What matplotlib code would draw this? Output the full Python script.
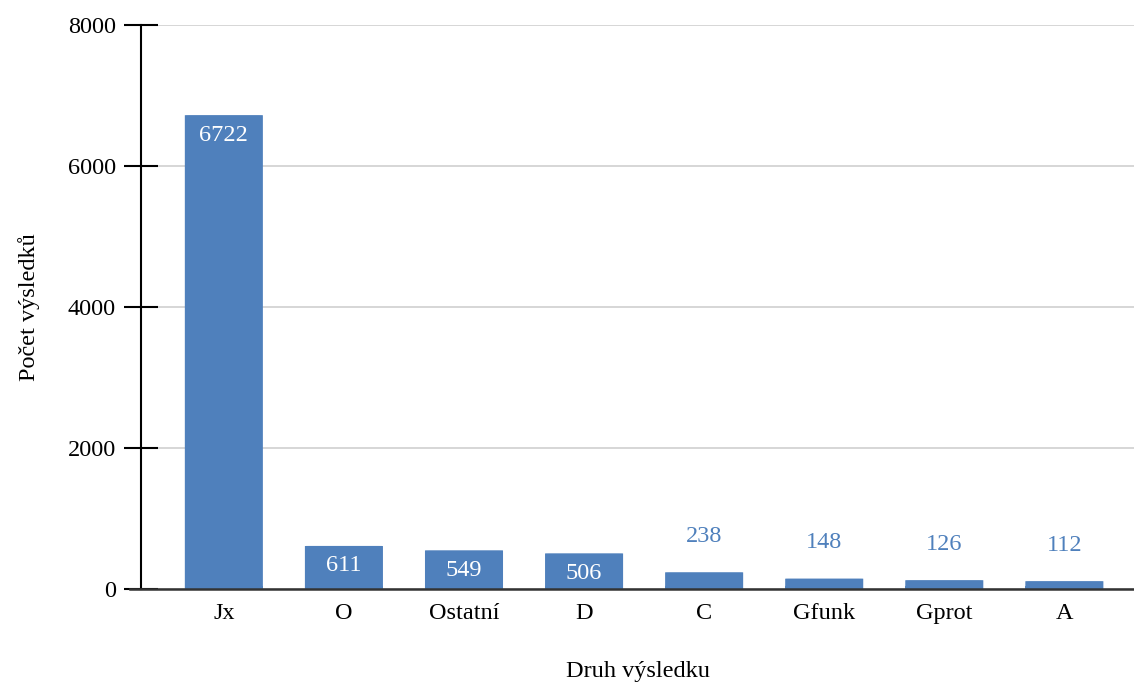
import matplotlib
matplotlib.use("Agg")
import matplotlib.pyplot as plt
from matplotlib.patches import FancyBboxPatch

categories = ["Jx", "O", "Ostatní", "D", "C", "Gfunk", "Gprot", "A"]
counts = [6722, 611, 549, 506, 238, 148, 126, 112]
yticks = [0, 2000, 4000, 6000, 8000]

bar_color = "#4F80BC"
plt.rcParams["font.family"] = ["Liberation Serif", "DejaVu Serif"]
FS = 17.5

fig = plt.figure(figsize=(11.34, 6.84), dpi=100)
ax = fig.add_axes([141 / 1134, 1 - 589 / 684, (1134 - 141) / 1134, (589 - 25) / 684])

x = list(range(len(categories)))
bars = ax.bar(x, counts, width=0.65, color=bar_color, zorder=3)

# rounded top corners
for b in bars:
    b.set_visible(False)
    r = FancyBboxPatch((b.get_x(), b.get_y()), b.get_width(), b.get_height(),
                       boxstyle="round,pad=0,rounding_size=0.035",
                       mutation_aspect=60, facecolor=bar_color,
                       edgecolor="none", zorder=3)
    ax.add_patch(r)
    # square off the bottom corners
    ax.bar(b.get_x() + b.get_width() / 2, min(b.get_height(), 40),
           width=b.get_width(), color=bar_color, zorder=3)

ax.set_xlim(-0.69, 7.58)
ax.set_ylim(0, 8000)
ax.set_yticks(yticks)
ax.set_yticklabels([str(t) for t in yticks])
ax.set_xticks(x)
ax.set_xticklabels(categories)

ax.grid(axis="y", color="#d0d0d0", linewidth=1.2, zorder=0)
ax.set_axisbelow(True)

for s in ["top", "right"]:
    ax.spines[s].set_visible(False)
ax.spines["left"].set_color("black")
ax.spines["left"].set_linewidth(1.5)
ax.spines["bottom"].set_color("#333333")
ax.spines["bottom"].set_linewidth(1.8)
ax.spines["bottom"].set_bounds(-0.69 - 0.09, 7.58)
ax.spines["bottom"].set_zorder(4)

ax.tick_params(axis="y", direction="inout", length=24, width=1.5, labelsize=FS, pad=6)
ax.tick_params(axis="x", length=0, labelsize=FS, pad=10)

ax.set_xlabel("Druh výsledku", fontsize=FS, labelpad=27)
ax.set_ylabel("Počet výsledků", fontsize=FS, labelpad=20)

for xi, v in zip(x, counts):
    if v > 400:
        ax.annotate(str(v), (xi, v), xytext=(0, -20), textcoords="offset pixels",
                    ha="center", va="center", color="white", fontsize=FS, zorder=5)
    else:
        ax.annotate(str(v), (xi, v), xytext=(0, 36), textcoords="offset pixels",
                    ha="center", va="center", color=bar_color, fontsize=FS, zorder=5)

fig.savefig("out.png", dpi=100)
